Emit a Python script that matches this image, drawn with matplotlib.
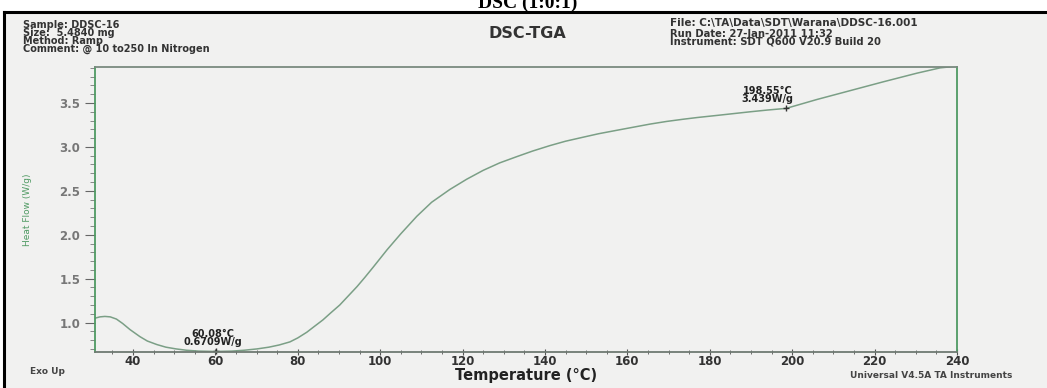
import matplotlib
matplotlib.use("Agg")
import matplotlib.pyplot as plt
from matplotlib.lines import Line2D
from matplotlib.patches import Rectangle
from matplotlib.ticker import MultipleLocator

# heat flow curve (temperature in C, heat flow in W/g)
temperature = [30.8, 32.0, 33.2, 34.5, 36.0, 37.5, 39.3, 41.7, 43.5, 45.8, 48.0,
               50.5, 53.0, 56.0, 60.08, 64.0, 67.0, 70.1, 73.0, 75.5, 78.1, 80.0,
               82.2, 84.0, 86.1, 88.0, 90.2, 92.3, 94.4, 96.3, 98.3, 101.7, 105.0,
               108.9, 112.5, 116.9, 121.0, 125.0, 129.0, 133.2, 137.0, 141.2,
               145.0, 149.2, 153.0, 157.5, 161.5, 165.5, 169.5, 173.5, 177.0,
               182.0, 189.8, 194.0, 198.55, 206.0, 214.0, 222.0, 230.3, 235.9, 240.0]
heat_flow = [1.05, 1.065, 1.07, 1.065, 1.04, 0.99, 0.92, 0.84, 0.79, 0.75, 0.72,
             0.70, 0.685, 0.675, 0.6709, 0.675, 0.685, 0.70, 0.72, 0.745, 0.78, 0.825,
             0.89, 0.955, 1.03, 1.11, 1.20, 1.305, 1.41, 1.515, 1.63, 1.83, 2.01,
             2.21, 2.37, 2.515, 2.632, 2.733, 2.818, 2.89, 2.953, 3.015,
             3.065, 3.11, 3.15, 3.19, 3.225, 3.26, 3.29, 3.315, 3.335,
             3.36, 3.40, 3.42, 3.439, 3.54, 3.64, 3.74, 3.84, 3.90, 3.92]

peak_labels = [(60.08, 0.6709, "60.08\u00b0C\n0.6709W/g", "center", -2),
               (198.55, 3.439, "198.55\u00b0C\n3.439W/g", "right", 5)]

header_left = ["Sample: DDSC-16", "Size:  5.4840 mg", "Method: Ramp",
               "Comment: @ 10 to250 In Nitrogen"]
header_right = ["File: C:\\TA\\Data\\SDT\\Warana\\DDSC-16.001",
                "Run Date: 27-Jan-2011 11:32",
                "Instrument: SDT Q600 V20.9 Build 20"]

W, H = 1047, 388
GREEN = "#4f9a63"
CURVE = "#7b9f86"
SANS = ["DejaVu Sans"]


def fx(x):
    return x / W


def fy(y):
    return 1 - y / H


fig = plt.figure(figsize=(W / 100, H / 100), dpi=100)
fig.patch.set_facecolor("white")

# scanned page background with black frame on top and left
fig.patches.append(Rectangle((fx(5), 0), 1, fy(12), transform=fig.transFigure,
                             facecolor="#f1f1f0", edgecolor="none", zorder=-5))
fig.lines.append(Line2D([fx(4), 1], [fy(12), fy(12)], transform=fig.transFigure,
                       color="black", linewidth=2.2, zorder=-4))
fig.lines.append(Line2D([fx(4), fx(4)], [0, fy(12)], transform=fig.transFigure,
                       color="black", linewidth=2.2, zorder=-4))

fig.text(fx(528), fy(3), "DSC (1:0:1)", family=["Liberation Serif", "DejaVu Serif"],
         fontsize=14, fontweight="bold", ha="center", va="center")

ax = fig.add_axes([fx(95), fy(352), fx(957) - fx(95), fy(67) - fy(352)])
ax.set_facecolor("none")
ax.plot(temperature, heat_flow, color=CURVE, linewidth=1.1)
ax.set_xlim(30.8, 240)
ax.set_ylim(0.665, 3.91)

for spine in ax.spines.values():
    spine.set_color(GREEN)
    spine.set_linewidth(1.3)
ax.spines["top"].set_color("#7a8a80")
ax.spines["bottom"].set_color("#6f7a72")

ax.xaxis.set_major_locator(MultipleLocator(20))
ax.xaxis.set_minor_locator(MultipleLocator(5))
ax.yaxis.set_major_locator(MultipleLocator(0.5))
ax.yaxis.set_minor_locator(MultipleLocator(0.1))
ax.tick_params(axis="x", which="major", direction="inout", length=4, color="#555555",
               labelsize=8.5, labelcolor="#333333", pad=0)
ax.tick_params(axis="x", which="minor", direction="inout", length=2.5, color="#555555")
ax.tick_params(axis="y", which="major", direction="out", length=7, color="#666666",
               labelsize=8.5, labelcolor="#777777", pad=3.5)
ax.tick_params(axis="y", which="minor", direction="out", length=3.5, color="#777777")
ax.set_yticks([1.0, 1.5, 2.0, 2.5, 3.0, 3.5])
for label in ax.get_xticklabels() + ax.get_yticklabels():
    label.set_family(SANS)
    label.set_fontweight("bold")

ax.set_ylabel("Heat Flow (W/g)", color=GREEN, fontsize=6.5, family=SANS)
ax.yaxis.set_label_coords(-0.073, 0.5)
ax.set_xlabel("Temperature (\u00b0C)", fontsize=10.5, fontweight="bold", family=SANS,
              color="#222222", labelpad=0)

for t, v, text, align, dx in peak_labels:
    ax.plot([t], [v], marker="+", color="#333333", markersize=5, clip_on=False)
    ax.annotate(text, (t, v), xytext=(dx, 3), textcoords="offset points",
                fontsize=7, fontweight="bold", family=SANS, color="#222222",
                ha=align, va="bottom", linespacing=0.8)

fig.text(fx(23), fy(20), "\n".join(header_left), fontsize=7, fontweight="bold",
         family=SANS, color="#333333", va="top", linespacing=0.72)
fig.text(fx(527), fy(33), "DSC-TGA", fontsize=11.5, fontweight="bold",
         family=SANS, color="#333333", ha="center", va="center")
fig.text(fx(670), fy(23), header_right[0], fontsize=7.5, fontweight="bold",
         family=SANS, color="#333333", va="center")
fig.text(fx(670), fy(29), "\n".join(header_right[1:]), fontsize=7.2, fontweight="bold",
         family=SANS, color="#333333", va="top", linespacing=0.72)

fig.text(fx(30), fy(372), "Exo Up", fontsize=6.5, fontweight="bold", family=SANS,
         color="#444444", va="center")
fig.text(fx(850), fy(375), "Universal V4.5A TA Instruments", fontsize=6.5,
         fontweight="bold", family=SANS, color="#444444", va="center")

fig.savefig("out.png", dpi=100)
